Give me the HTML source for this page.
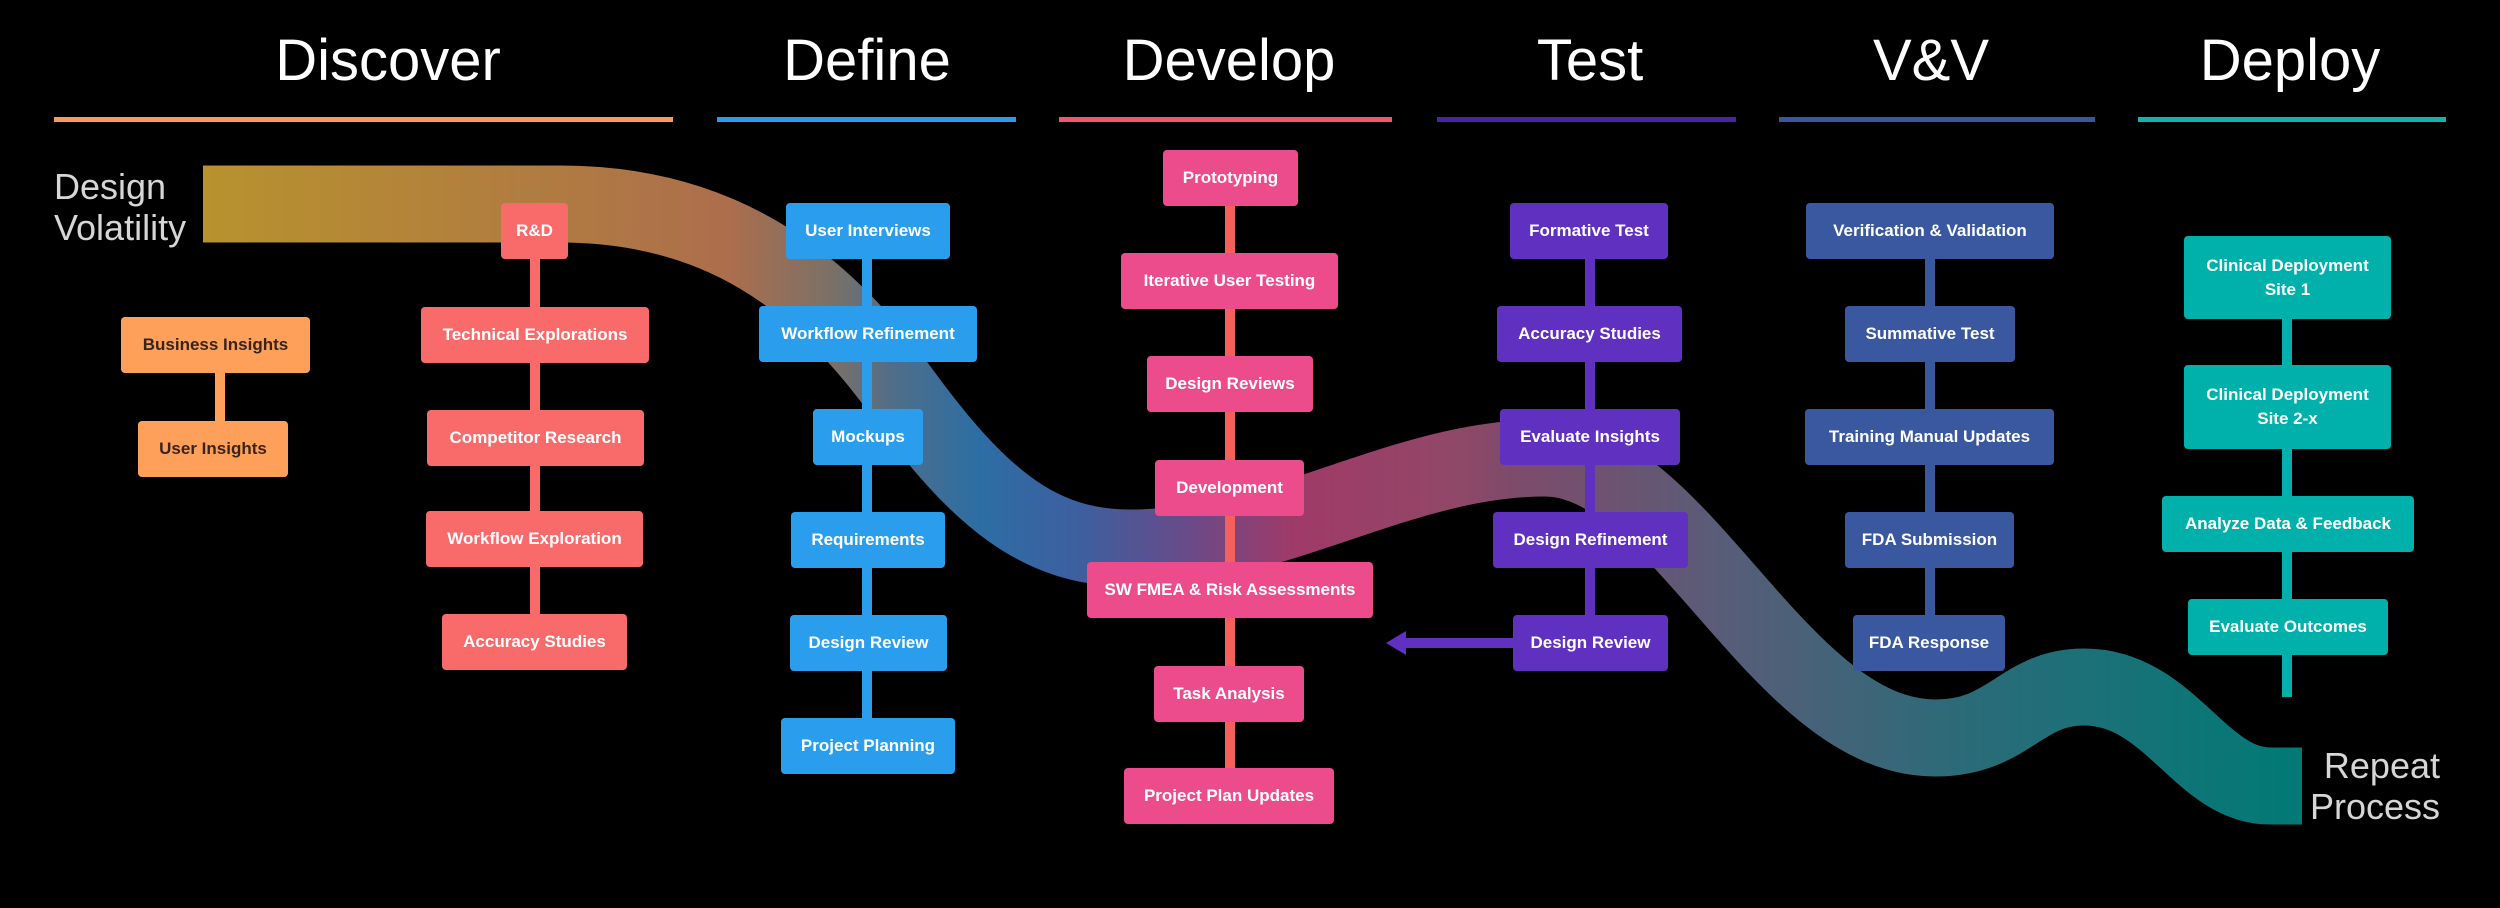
<!DOCTYPE html>
<html><head><meta charset="utf-8"><style>
html,body{margin:0;padding:0;background:#000;}
#c{position:relative;width:2500px;height:908px;overflow:hidden;background:#000;font-family:"Liberation Sans",sans-serif;}
.h{position:absolute;top:26px;color:#fff;font-size:58px;font-weight:normal;transform:translateX(-50%);white-space:nowrap;line-height:70px;}
.b{position:absolute;display:flex;align-items:center;justify-content:center;text-align:center;color:#fff;font-weight:bold;font-size:17px;border-radius:4px;line-height:24px;}
.side{position:absolute;color:#d6d6d6;font-size:36px;line-height:41px;}
</style></head><body><div id="c">
<svg width="2500" height="908" style="position:absolute;left:0;top:0">
<defs><linearGradient id="g" gradientUnits="userSpaceOnUse" x1="203" y1="0" x2="2302" y2="0">
<stop offset="0" stop-color="#b8922e"/>
<stop offset="0.17" stop-color="#b07a42"/>
<stop offset="0.25" stop-color="#ad6e4c"/>
<stop offset="0.3" stop-color="#7a7068"/>
<stop offset="0.33" stop-color="#4e6e8a"/>
<stop offset="0.37" stop-color="#2c6ea4"/>
<stop offset="0.42" stop-color="#3f5e9e"/>
<stop offset="0.47" stop-color="#6a4a88"/>
<stop offset="0.52" stop-color="#a03a68"/>
<stop offset="0.6" stop-color="#904868"/>
<stop offset="0.62" stop-color="#804a6a"/>
<stop offset="0.72" stop-color="#5a5c78"/>
<stop offset="0.83" stop-color="#2e6a78"/>
<stop offset="1" stop-color="#007a76"/>
</linearGradient></defs>
<path d="M203,204 L560,204 C720,204 820,280 900,390 C980,500 1040,548 1130,548 C1280,548 1400,458 1545,458 C1680,458 1780,738 1935,738 C2010,738 2020,687 2084,687 C2170,687 2200,786 2270,786 L2302,786" fill="none" stroke="url(#g)" stroke-width="77"/>
<!-- underlines -->
<rect x="54" y="117" width="619" height="5" fill="#f79a5c"/>
<rect x="717" y="117" width="299" height="5" fill="#2a9bea"/>
<rect x="1059" y="117" width="333" height="5" fill="#f0566f"/>
<rect x="1437" y="117" width="299" height="5" fill="#4a24a6"/>
<rect x="1779" y="117" width="316" height="5" fill="#3a56a0"/>
<rect x="2138" y="117" width="308" height="5" fill="#12b3ae"/>
<!-- connectors -->
<rect x="215" y="345" width="10" height="104" fill="#ffa05a"/>
<rect x="530" y="231" width="10" height="412" fill="#f96a6a"/>
<rect x="862" y="231" width="10" height="515" fill="#2a9eec"/>
<rect x="1225" y="178" width="10" height="618" fill="#f5605c"/>
<rect x="1585" y="231" width="10" height="412" fill="#6030c0"/>
<rect x="1925" y="231" width="10" height="412" fill="#3a58a0"/>
<rect x="2282" y="265" width="10" height="432" fill="#00b0aa"/>
<rect x="1400" y="638" width="115" height="10" fill="#6030c0"/>
<polygon points="1386,643 1406,631 1406,655" fill="#6030c0"/>
</svg>
<div class="h" style="left:388px">Discover</div>
<div class="h" style="left:867px">Define</div>
<div class="h" style="left:1229px">Develop</div>
<div class="h" style="left:1590px">Test</div>
<div class="h" style="left:1931px">V&amp;V</div>
<div class="h" style="left:2290px">Deploy</div>
<div class="side" style="left:54px;top:166px">Design<br>Volatility</div>
<div class="side" style="right:60px;top:745px;text-align:right">Repeat<br>Process</div>

<div class="b" style="left:121px;top:317px;width:189px;height:56px;background:#ffa05a;color:#3a2418">Business Insights</div>
<div class="b" style="left:138px;top:421px;width:150px;height:56px;background:#ffa05a;color:#3a2418">User Insights</div>

<div class="b" style="left:501px;top:203px;width:67px;height:56px;background:#f96a6a">R&amp;D</div>
<div class="b" style="left:421px;top:307px;width:228px;height:56px;background:#f96a6a">Technical Explorations</div>
<div class="b" style="left:427px;top:410px;width:217px;height:56px;background:#f96a6a">Competitor Research</div>
<div class="b" style="left:426px;top:511px;width:217px;height:56px;background:#f96a6a">Workflow Exploration</div>
<div class="b" style="left:442px;top:614px;width:185px;height:56px;background:#f96a6a">Accuracy Studies</div>

<div class="b" style="left:786px;top:203px;width:164px;height:56px;background:#2a9eec">User Interviews</div>
<div class="b" style="left:759px;top:306px;width:218px;height:56px;background:#2a9eec">Workflow Refinement</div>
<div class="b" style="left:813px;top:409px;width:110px;height:56px;background:#2a9eec">Mockups</div>
<div class="b" style="left:791px;top:512px;width:154px;height:56px;background:#2a9eec">Requirements</div>
<div class="b" style="left:790px;top:615px;width:157px;height:56px;background:#2a9eec">Design Review</div>
<div class="b" style="left:781px;top:718px;width:174px;height:56px;background:#2a9eec">Project Planning</div>

<div class="b" style="left:1163px;top:150px;width:135px;height:56px;background:#ec4c8c">Prototyping</div>
<div class="b" style="left:1121px;top:253px;width:217px;height:56px;background:#ec4c8c">Iterative User Testing</div>
<div class="b" style="left:1147px;top:356px;width:166px;height:56px;background:#ec4c8c">Design Reviews</div>
<div class="b" style="left:1155px;top:460px;width:149px;height:56px;background:#ec4c8c">Development</div>
<div class="b" style="left:1087px;top:562px;width:286px;height:56px;background:#ec4c8c">SW FMEA &amp; Risk Assessments</div>
<div class="b" style="left:1154px;top:666px;width:150px;height:56px;background:#ec4c8c">Task Analysis</div>
<div class="b" style="left:1124px;top:768px;width:210px;height:56px;background:#ec4c8c">Project Plan Updates</div>

<div class="b" style="left:1510px;top:203px;width:158px;height:56px;background:#6030c0">Formative Test</div>
<div class="b" style="left:1497px;top:306px;width:185px;height:56px;background:#6030c0">Accuracy Studies</div>
<div class="b" style="left:1500px;top:409px;width:180px;height:56px;background:#6030c0">Evaluate Insights</div>
<div class="b" style="left:1493px;top:512px;width:195px;height:56px;background:#6030c0">Design Refinement</div>
<div class="b" style="left:1513px;top:615px;width:155px;height:56px;background:#6030c0">Design Review</div>

<div class="b" style="left:1806px;top:203px;width:248px;height:56px;background:#3a58a0">Verification &amp; Validation</div>
<div class="b" style="left:1845px;top:306px;width:170px;height:56px;background:#3a58a0">Summative Test</div>
<div class="b" style="left:1805px;top:409px;width:249px;height:56px;background:#3a58a0">Training Manual Updates</div>
<div class="b" style="left:1845px;top:512px;width:169px;height:56px;background:#3a58a0">FDA Submission</div>
<div class="b" style="left:1853px;top:615px;width:152px;height:56px;background:#3a58a0">FDA Response</div>

<div class="b" style="left:2184px;top:236px;width:207px;height:83px;background:#00b0aa">Clinical Deployment<br>Site 1</div>
<div class="b" style="left:2184px;top:365px;width:207px;height:84px;background:#00b0aa">Clinical Deployment<br>Site 2-x</div>
<div class="b" style="left:2162px;top:496px;width:252px;height:56px;background:#00b0aa">Analyze Data &amp; Feedback</div>
<div class="b" style="left:2188px;top:599px;width:200px;height:56px;background:#00b0aa">Evaluate Outcomes</div>
</div></body></html>
